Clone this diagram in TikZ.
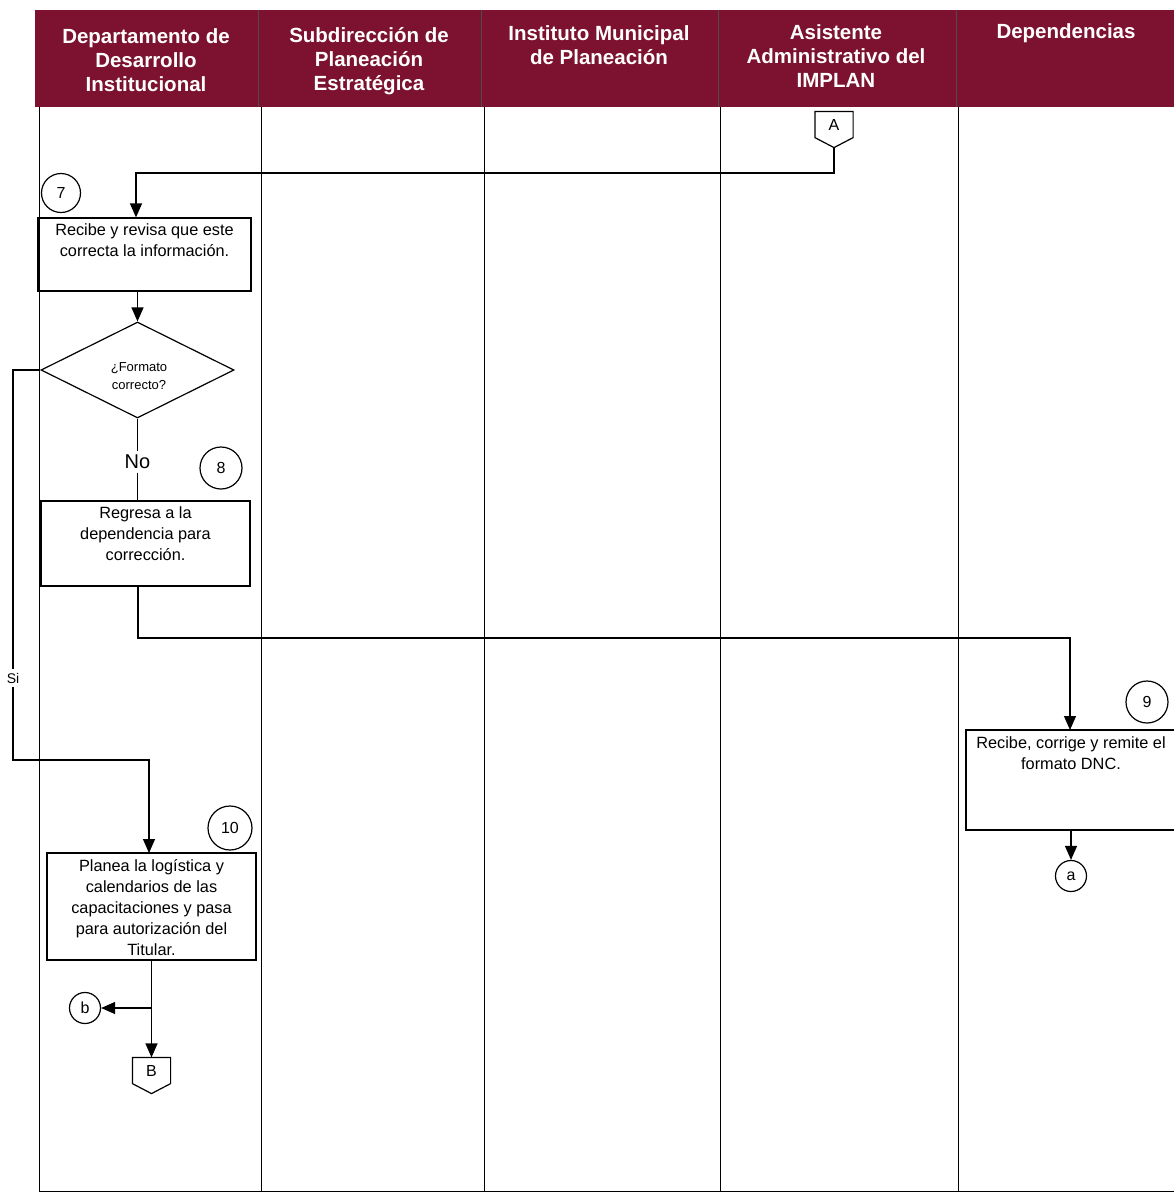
\documentclass[tikz,border=0pt]{standalone}
\usepackage{fontspec}
\setmainfont{Liberation Sans}
\usetikzlibrary{arrows.meta,calc,shapes.geometric}
\definecolor{hdr}{RGB}{124,18,48}
\begin{document}
\begin{tikzpicture}[x=1pt,y=-1pt,line width=1.2pt,
  hdrtxt/.style={text=white,font=\fontsize{20.5}{24}\selectfont\bfseries,align=center,anchor=north,inner sep=0pt},
  lane/.style={line width=1pt},
  box/.style={draw,rectangle,inner sep=0pt},
  txt/.style={font=\fontsize{16.3}{21}\selectfont,align=center,anchor=north,inner sep=0pt},
  num/.style={draw,circle,inner sep=0pt,font=\fontsize{16}{18}\selectfont},
  conn/.style={draw,circle,inner sep=0pt,minimum size=31pt,font=\fontsize{16}{18}\selectfont},
  offp/.style={rectangle,inner sep=0pt,minimum width=37pt,minimum height=25pt,font=\fontsize{16}{18}\selectfont},
  arr/.style={-{Triangle[length=14pt,width=12pt]}}]
\useasboundingbox (0,0) rectangle (1174,1192);
\clip (0,0) rectangle (1174,1192);
% header
\fill[hdr] (35,10) rectangle (1180,107);
\foreach \x in {258,481,718,956} \draw[lane,black!70] (\x,10) -- (\x,107);
\node[hdrtxt] (h1) at (146,28) {Departamento de\\Desarrollo\\Institucional};
\node[hdrtxt] (h2) at (369,27) {Subdirección de\\Planeación\\Estratégica};
\node[hdrtxt] (h3) at (599,25) {Instituto Municipal\\de Planeación};
\node[hdrtxt] (h4) at (836,24) {Asistente\\Administrativo del\\IMPLAN};
\node[hdrtxt] (h5) at (1066,23) {Dependencias};
% lanes
\foreach \x in {39,261,484,720,958} \draw[lane] (\x,107) -- (\x,1192);
\draw[lane] (39,1191) -- (1174,1191);
% off-page A
\node[offp] (A) at (834,124.5) {A};
\draw (A.north west) -- (A.north east) -- (A.south east) -- ($(A.south)+(0,10)$) coordinate (Ap) -- (A.south west) -- cycle;
% step 7
\node[num,minimum size=39pt] (c7) at (61,193) {7};
\node[box,minimum width=213pt,minimum height=73pt] (b7) at (144.5,254.5) {};
\node[txt] (t7) at ($(b7.north)+(0,6)$) {Recibe y revisa que este\\correcta la información.};
\coordinate (ka) at (136,173);
\draw[arr] (Ap) |- (ka) -- (ka |- b7.north);
% decision
\node[draw,diamond,minimum width=193pt,minimum height=96pt,inner sep=0pt] (d) at (137.5,370) {};
\node[font=\fontsize{13}{18}\selectfont,align=center,inner sep=0pt] (dt) at (139,376) {¿Formato\\correcto?};
\draw[arr] (b7.south -| d.north) -- (d.north);
\node[font=\fontsize{20}{22}\selectfont,inner sep=3pt] (no) at (137.5,462) {No};
\draw (d.south) -- (no.north);
% step 8
\node[num,minimum size=42pt] (c8) at (221,468) {8};
\node[box,minimum width=209pt,minimum height=85pt] (b8) at (145.5,543.5) {};
\node[txt] (t8) at ($(b8.north)+(0,6)$) {Regresa a la\\dependencia para\\corrección.};
\draw (no.south) -- (no |- b8.north);
% step 9
\node[num,minimum size=42pt] (c9) at (1147,702) {9};
\node[box,minimum width=214pt,minimum height=100pt] (b9) at (1073,780) {};
\node[txt] (t9) at (1071,736) {Recibe, corrige y remite el\\formato DNC.};
\coordinate (k8) at (138,638);
\draw[arr] (b8.south -| k8) -- (k8) -| (1070,730);
\node[conn] (ca) at (1071,876) {a};
\draw[arr] (b9.south -| ca) -- (ca.north);
% Si branch
\node[font=\fontsize{14}{16}\selectfont,inner sep=3pt] (si) at (13,678) {Si};
\draw (d.west) -| (si.north);
% step 10
\node[num,minimum size=44pt] (c10) at (230,828) {10};
\node[box,minimum width=209pt,minimum height=107pt] (b10) at (151.5,906.5) {};
\node[txt] (t10) at ($(b10.north)+(0,6)$) {Planea la logística y\\calendarios de las\\capacitaciones y pasa\\para autorización del\\Titular.};
\coordinate (ks) at (13,760);
\draw[arr] (si.south) -- (ks) -| (149,853);
% B and b
\node[offp] (B) at (151.5,1070.5) {B};
\draw (B.north west) -- (B.north east) -- (B.south east) -- ($(B.south)+(0,10)$) -- (B.south west) -- cycle;
\draw[arr] (b10.south -| B.north) -- (B.north);
\node[conn] (cb) at (85,1008) {b};
\coordinate (kb) at (151.5,1008);
\draw[arr] (kb) -- (cb.east);
\end{tikzpicture}
\end{document}
